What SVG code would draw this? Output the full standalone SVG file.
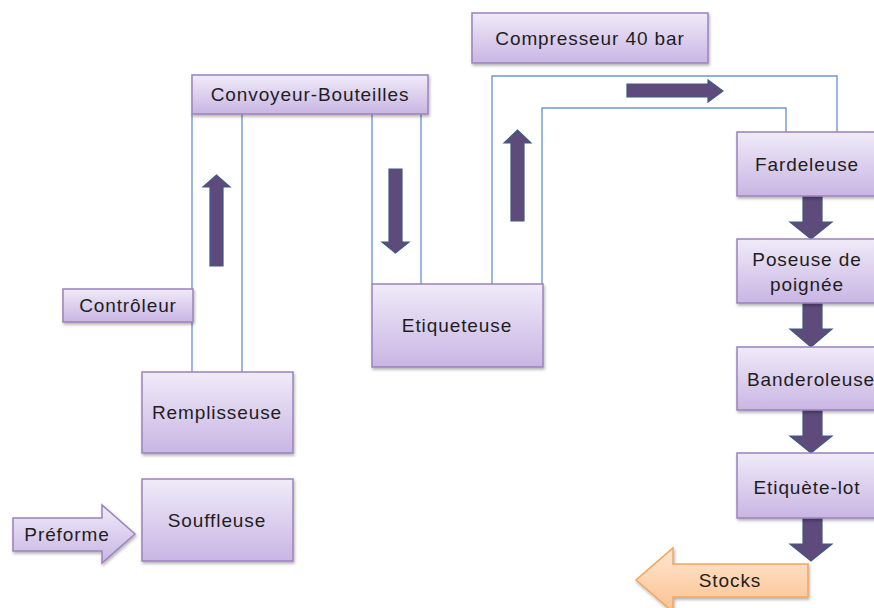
<svg xmlns="http://www.w3.org/2000/svg" width="874" height="608" viewBox="0 0 874 608">
<defs>
<linearGradient id="gp" x1="0" y1="0" x2="0" y2="1">
<stop offset="0" stop-color="#f0ebf8"/>
<stop offset="1" stop-color="#c9b5e4"/>
</linearGradient>
<linearGradient id="go" x1="0" y1="0" x2="0" y2="1">
<stop offset="0" stop-color="#fee6d2"/>
<stop offset="1" stop-color="#fbc28f"/>
</linearGradient>
<filter id="sh" x="-10%" y="-10%" width="130%" height="140%">
<feDropShadow dx="1" dy="2" stdDeviation="1.5" flood-color="#000" flood-opacity="0.3"/>
</filter>
<style>
.box{fill:url(#gp);stroke:#9b82bd;stroke-width:1.5;filter:url(#sh)}
.t{font-family:"Liberation Sans",Arial,sans-serif;font-size:19px;letter-spacing:0.9px;fill:#1e1e1e;text-anchor:middle}
.ln{fill:none;stroke:#6e98d2;stroke-width:1.4}
.ar{fill:#5e4a7b;stroke:#3e5a82;stroke-width:1.2}
.po{fill:url(#go);stroke:#f3a55e;stroke-width:1.5;filter:url(#sh)}
</style>
</defs>
<g id="connectors">
<line class="ln" x1="192" y1="114" x2="192" y2="372"/>
<line class="ln" x1="242" y1="114" x2="242" y2="372"/>
<line class="ln" x1="372" y1="114" x2="372" y2="284"/>
<line class="ln" x1="421" y1="114" x2="421" y2="284"/>
<polyline class="ln" points="492,284 492,76 837,76 837,132"/>
<polyline class="ln" points="542,284 542,108 786,108 786,132"/>
<polygon class="ar" points="210,266 223,266 223,187 230,187 216.5,175 203,187 210,187"/>
<polygon class="ar" points="389,169 402,169 402,242 409,242 395.5,253 382,242 389,242"/>
<polygon class="ar" points="511,221 524,221 524,143 531,143 517.5,130 504,143 511,143"/>
<polygon class="ar" points="627,84 708,84 708,80 723,91 708,102 708,97 627,97"/>
<polygon class="ar" points="803,196 822,196 822,222 832,222 811,239 790,222 803,222"/>
<polygon class="ar" points="803,302 822,302 822,329 832,329 811,347 790,329 803,329"/>
<polygon class="ar" points="803,409 822,409 822,436 832,436 811,453 790,436 803,436"/>
<polygon class="ar" points="803,517 822,517 822,544 832,544 811,561 790,544 803,544"/>
</g>
<g id="convoyeur"><rect class="box" x="192" y="75" width="236" height="39"/><text class="t" x="310" y="101">Convoyeur-Bouteilles</text></g>
<g id="compresseur"><rect class="box" x="472" y="13" width="236" height="50"/><text class="t" x="590" y="45">Compresseur 40 bar</text></g>
<g id="controleur"><rect class="box" x="63" y="289" width="130" height="33"/><text class="t" x="128" y="312">Contrôleur</text></g>
<g id="remplisseuse"><rect class="box" x="142" y="372" width="151" height="81"/><text class="t" x="217" y="419">Remplisseuse</text></g>
<g id="souffleuse"><rect class="box" x="142" y="479" width="151" height="82"/><text class="t" x="217" y="527">Souffleuse</text></g>
<g id="preforme"><polygon class="box" points="13,518 102,518 102,505 135,534 102,563 102,551 13,551"/><text class="t" x="67" y="541">Préforme</text></g>
<g id="etiqueteuse"><rect class="box" x="372" y="284" width="171" height="83"/><text class="t" x="457" y="332">Etiqueteuse</text></g>
<g id="fardeleuse"><rect class="box" x="737" y="132" width="140" height="64"/><text class="t" x="807" y="171">Fardeleuse</text></g>
<g id="poseuse"><rect class="box" x="737" y="239" width="140" height="64"/><text class="t" x="807" y="266">Poseuse de</text><text class="t" x="807" y="291">poignée</text></g>
<g id="banderoleuse"><rect class="box" x="737" y="347" width="140" height="63"/><text class="t" x="811" y="386">Banderoleuse</text></g>
<g id="etiquetelot"><rect class="box" x="737" y="453" width="140" height="65"/><text class="t" x="807" y="494">Etiquète-lot</text></g>
<g id="stocks"><polygon class="po" points="808,564 673,564 673,548 636,580 673,612 673,597 808,597"/><text class="t" x="730" y="587">Stocks</text></g>
</svg>
